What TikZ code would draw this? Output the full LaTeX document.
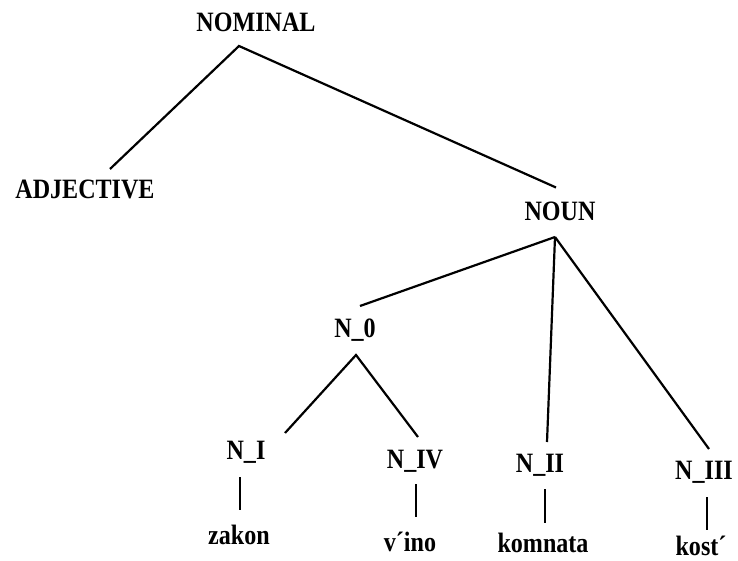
\documentclass[tikz,border=0pt]{standalone}
\usepackage{fontspec}
\newfontfamily\treefont{Liberation Serif}[FakeStretch=0.86]
\tikzset{
  lbl/.style={font=\treefont\bfseries\fontsize{28}{32}\selectfont, inner sep=0pt},
  edge/.style={line width=2.2pt}
}
\begin{document}
\begin{tikzpicture}[x=1pt, y=-1pt]
    \useasboundingbox (0,0) rectangle (738,561);

    \node [lbl] (nominal) at (256,22) {NOMINAL};
    \node [lbl] (adj) at (85,189) {ADJECTIVE};
    \node [lbl] (noun) at (560,211) {NOUN};
    \node [lbl] (nzero) at (355,330) {N\_0};
    \node [lbl] (nI) at (246,452) {N\_I};
    \node [lbl] (nIV) at (415,461) {N\_IV};
    \node [lbl] (nII) at (540,465) {N\_II};
    \node [lbl] (nIII) at (704,472) {N\_III};
    \node [lbl] (zakon) at (239,535) {zakon};
    \node [lbl] (vino) at (410,542) {v´ino};
    \node [lbl] (komnata) at (543,543) {komnata};
    \node [lbl] (kost) at (701,546) {kost´};

    \draw [edge] ([shift={(25,-20)}]adj.center) -- ([shift={(-17,24)}]nominal.center) -- ([shift={(-4,-23.5)}]noun.center);
    \draw [edge] ([shift={(5,-24)}]nzero.center) -- ([shift={(-5,26)}]noun.center);
    \draw [edge] ([shift={(-5,26)}]noun.center) -- ([shift={(7,-23)}]nII.center);
    \draw [edge] ([shift={(-5,26)}]noun.center) -- ([shift={(5,-23)}]nIII.center);
    \draw [edge] ([shift={(39,-19)}]nI.center) -- ([shift={(1,25)}]nzero.center) -- ([shift={(3,-24)}]nIV.center);

    \draw [edge] ([shift={(-6,25)}]nI.center) -- ([shift={(1,-25)}]zakon.center);
    \draw [edge] ([shift={(1,23)}]nIV.center) -- ([shift={(6,-25)}]vino.center);
    \draw [edge] ([shift={(5,24)}]nII.center) -- ([shift={(2,-20)}]komnata.center);
    \draw [edge] ([shift={(3,25)}]nIII.center) -- ([shift={(6,-16)}]kost.center);
  \end{tikzpicture}
\end{document}
